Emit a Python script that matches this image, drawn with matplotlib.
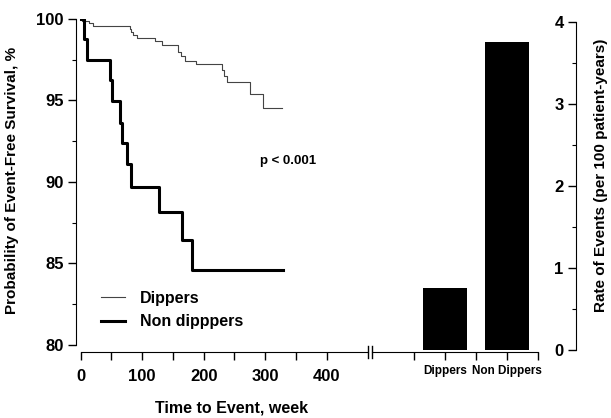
import numpy as np
import matplotlib
matplotlib.use("Agg")
import matplotlib.pyplot as plt
from matplotlib.lines import Line2D

plt.rcParams['font.family'] = ['Liberation Sans', 'DejaVu Sans']
plt.rcParams['font.weight'] = 'bold'

# Kaplan-Meier steps (week, survival %)
dip_weeks = [0, 2.6, 13.5, 19.5, 80, 82.5, 85, 92, 120, 131.6, 158.7, 162.6, 169.6, 187,
             229, 233, 237.4, 275.8, 297, 328]
dip_surv = [100, 99.9, 99.74, 99.57, 99.37, 99.2, 99.04, 98.83, 98.67, 98.4, 98.0, 97.7,
            97.44, 97.22, 96.87, 96.5, 96.13, 95.42, 94.56, 94.56]

non_weeks = [0, 5, 11, 47.6, 51, 64, 66.6, 74.8, 81.8, 127.8, 165, 181.5, 329]
non_surv = [100, 98.75, 97.5, 96.26, 94.99, 93.64, 92.37, 91.09, 89.67, 88.14, 86.42,
            84.6, 84.6]

bar_labels = ['Dippers', 'Non Dippers']
bar_rates = [0.75, 3.75]

W, H = 611, 418
fig = plt.figure(figsize=(W / 100, H / 100), dpi=100)

def box(l, r, b, t):
    return [l / W, (H - b) / H, (r - l) / W, (b - t) / H]

# ---- survival curves
ax1 = fig.add_axes(box(76, 368, 352, 19))
ax1.step(dip_weeks, dip_surv, where='post', color='#444444', lw=0.8, label='Dippers')
ax1.step(non_weeks, non_surv, where='post', color='black', lw=2.2, label='Non dipppers')
ax1.set_xlim(-7.6, 467)
ax1.set_ylim(79.57, 100)
for s in ['top', 'right']:
    ax1.spines[s].set_visible(False)
ax1.spines['left'].set_bounds(80, 100)
ax1.spines['bottom'].set_bounds(0, 467)
ax1.set_yticks([80, 85, 90, 95, 100])
ax1.set_yticks(np.arange(82.5, 100, 5), minor=True)
ax1.set_xticks(np.arange(0, 401, 50))
ax1.set_xticklabels(['0', '', '100', '', '200', '', '300', '', '400'])
ax1.tick_params(axis='both', which='major', length=6, width=1, labelsize=12)
ax1.tick_params(axis='y', which='minor', length=3, width=0.8)
ax1.tick_params(axis='x', pad=6)
ax1.tick_params(axis='y', pad=3)
ax1.text(337, 91.3, 'p < 0.001', fontsize=9.5, ha='center', va='center')
ax1.legend(loc='lower left', bbox_to_anchor=(0.035, 0.025), frameon=False, fontsize=11.5,
           handlelength=1.55, handletextpad=0.9, labelspacing=0.55)

# ---- event rate bars
ax2 = fig.add_axes(box(372, 576, 352, 22))
ax2.bar([1, 2], bar_rates, width=0.71, color='black')
ax2.set_xlim(-0.173, 3.118)
ax2.set_ylim(-0.0244, 4)
for s in ['top', 'right']:
    ax2.spines[s].set_visible(False)
ax2.spines['left'].set_position(('axes', 1.0))
ax2.spines['left'].set_bounds(0, 4)
ax2.spines['bottom'].set_bounds(-0.173, 2.5)
ax2.set_yticks([0, 1, 2, 3, 4])
ax2.set_yticks(np.arange(0.5, 4, 1), minor=True)
ax2.set_xticks([0.5, 1, 1.5, 2, 2.5])
ax2.set_xticklabels(['', bar_labels[0], '', bar_labels[1], ''], fontsize=8.5)
ax2.tick_params(axis='both', which='major', length=6, width=1)
ax2.tick_params(axis='y', labelsize=12, pad=3)
ax2.tick_params(axis='y', which='minor', length=3, width=0.8)

# axis break marks
for xp in (368, 372):
    fig.add_artist(Line2D([xp / W, xp / W], [(H - 346) / H, (H - 358) / H],
                          color='black', lw=1))

fig.text(12 / W, (H - 180) / H, 'Probability of Event-Free Survival, %', rotation=90,
         ha='center', va='center', fontsize=11)
fig.text(232 / W, (H - 408) / H, 'Time to Event, week', ha='center', va='center',
         fontsize=11.5)
fig.text(601 / W, (H - 175) / H, 'Rate of Events (per 100 patient-years)', rotation=90,
         ha='center', va='center', fontsize=11)

fig.savefig('out.png', dpi=100)
